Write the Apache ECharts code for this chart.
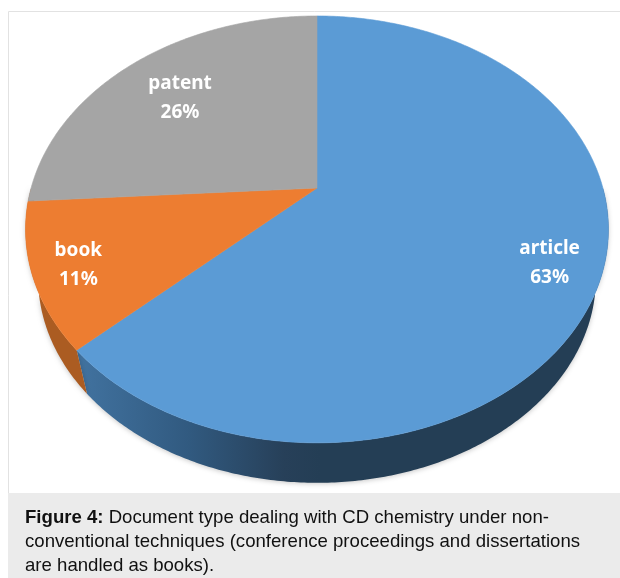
<!DOCTYPE html>
<html>
<head>
<meta charset="utf-8">
<style>
  html, body { margin: 0; padding: 0; background: #fff; }
  #chart-ctn { width: 620px; height: 578px; }
</style>
<script src="https://cdn.jsdelivr.net/npm/echarts@6/dist/echarts.min.js"></script>
</head>
<body>
<div id="chart-ctn"></div>
<script>
var categories = ['article', 'book', 'patent'];
var shares = [63, 11, 26];
var faceColors = ['#5b9bd5', '#ed7d31', '#a5a5a5'];
var captionHead = 'Figure 4:';
var captionLines = [
  ' Document type dealing with CD chemistry under non-',
  'conventional techniques (conference proceedings and dissertations',
  'are handled as books).'
];

// the tilted pie is a circle seen in perspective, k sets how strong
var CX = 317, CY = 188, SCALE_X = 285.9, SCALE_Y = 205.4, K = 0.194;
var labelRadius = [0.83, 0.85, 0.72];
var CAPTION_FONT = '18.6px "Liberation Sans", Arial, sans-serif';

function project(angle, r) {
  var u = r * Math.sin(angle);
  var v = -r * Math.cos(angle);
  var w = 1 - K * v;
  return [CX + SCALE_X * u / w, CY + SCALE_Y * v / w];
}

// lower rim of the disc, a bit smaller than the top one
function lower(p) {
  return [CX + 0.957 * (p[0] - CX), 278 + 0.96 * (p[1] - 229.5)];
}

function rim(from, to) {
  var pts = [];
  var steps = Math.max(2, Math.ceil(Math.abs(to - from) / 0.01));
  for (var i = 0; i <= steps; i++) {
    pts.push(project(from + (to - from) * i / steps, 1));
  }
  return pts;
}

var sliceData = [];
var total = 0;
shares.forEach(function (s) { total += s; });
var acc = 0;
shares.forEach(function (s, i) {
  var start = acc / total * Math.PI * 2;
  acc += s;
  sliceData.push({ value: [start, acc / total * Math.PI * 2, s, i], name: categories[i] });
});

function sideFill(i) {
  if (i === 0) {
    return new echarts.graphic.LinearGradient(80, 0, 320, 0, [
      { offset: 0, color: '#41729f' },
      { offset: 0.45, color: '#315a80' },
      { offset: 0.85, color: '#274059' },
      { offset: 1, color: '#243e55' }
    ], true);
  }
  return '#ab5c22';
}

function renderSide(params, api) {
  var i = api.value(3);
  // only the front part of the wall can be seen
  var from = Math.max(api.value(0), Math.PI / 2);
  var to = Math.min(api.value(1), Math.PI * 1.5);
  if (from >= to) return { type: 'group', children: [] };
  var top = rim(from, to);
  var pts = top.concat(top.map(lower).reverse());
  return {
    type: 'polygon',
    shape: { points: pts },
    style: { fill: sideFill(i), shadowBlur: 5, shadowColor: 'rgba(0,0,0,0.22)', shadowOffsetY: 1 }
  };
}

function renderFace(params, api) {
  var i = api.value(3);
  var from = api.value(0), to = api.value(1);
  var mid = (from + to) / 2;
  var at = project(mid, labelRadius[i]);
  return {
    type: 'group',
    children: [{
      type: 'polygon',
      shape: { points: [[CX, CY]].concat(rim(from, to)) },
      style: { fill: faceColors[i], stroke: faceColors[i], lineWidth: 0.6 }
    }, {
      type: 'text',
      z2: 10,
      style: {
        x: at[0], y: at[1] + 2.5,
        text: categories[i] + '\n' + api.value(2) + '%',
        fill: '#fff',
        font: 'bold 19px "Noto Sans", sans-serif',
        lineHeight: 29,
        align: 'center',
        verticalAlign: 'middle'
      }
    }]
  };
}

var myChart = echarts.init(document.getElementById('chart-ctn'));
myChart.setOption({
  animation: false,
  backgroundColor: '#fff',
  graphic: [
    { type: 'rect', z: -1, shape: { x: 8.5, y: 11.5, width: 640, height: 600 },
      style: { fill: '#fff', stroke: '#e2e2e2', lineWidth: 1 } },
    { type: 'rect', z: -1, shape: { x: 8, y: 493, width: 612, height: 85 },
      style: { fill: '#ebebeb' } },
    { type: 'text', z: 5, x: 25, y: 518,
      style: {
        text: '{b|' + captionHead + '}{n|' + captionLines[0] + '}',
        verticalAlign: 'middle',
        rich: {
          b: { font: 'bold ' + CAPTION_FONT, fill: '#111' },
          n: { font: CAPTION_FONT, fill: '#111' }
        }
      } },
    { type: 'text', z: 5, x: 25, y: 542,
      style: { text: captionLines[1], verticalAlign: 'middle', fill: '#111', font: CAPTION_FONT } },
    { type: 'text', z: 5, x: 25, y: 566,
      style: { text: captionLines[2], verticalAlign: 'middle', fill: '#111', font: CAPTION_FONT } }
  ],
  series: [
    { type: 'custom', coordinateSystem: 'none', renderItem: renderSide, data: sliceData, silent: true },
    { type: 'custom', coordinateSystem: 'none', renderItem: renderFace, data: sliceData, silent: true }
  ]
});
</script>
</body>
</html>
